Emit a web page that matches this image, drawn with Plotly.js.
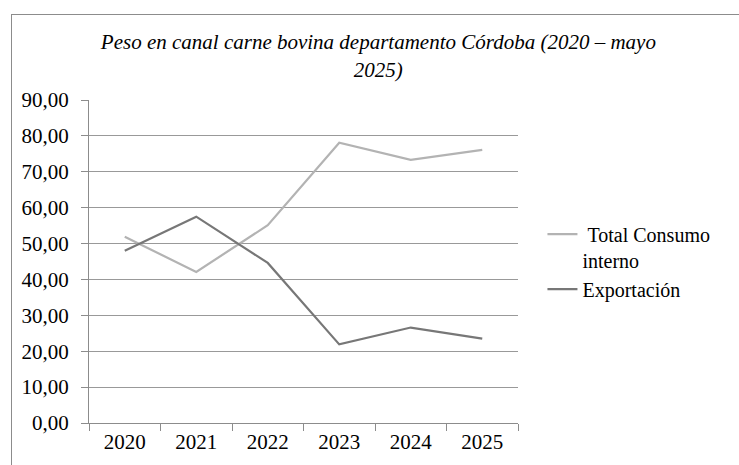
<!DOCTYPE html>
<html>
<head>
<meta charset="utf-8">
<script src="https://cdn.plot.ly/plotly-3.0.1.min.js"></script>
<style>
  html, body { margin: 0; padding: 0; background: #fff; overflow: hidden; }
  #chart { width: 739px; height: 465px; position: absolute; left: 0; top: 0; }
  #frame { position: absolute; left: 11px; top: 14px; width: 760px; height: 480px;
           border-left: 1px solid #8c8c8c; border-top: 1px solid #8c8c8c; pointer-events: none; }
</style>
</head>
<body>
<div id="chart"></div>
<div id="frame"></div>
<script>
const years = ['2020', '2021', '2022', '2023', '2024', '2025'];
const consumoInterno = [51.9, 42.1, 55.1, 78.1, 73.3, 76.1];
const exportacion = [48.0, 57.5, 44.6, 21.9, 26.6, 23.5];
const yTicks = [0, 10, 20, 30, 40, 50, 60, 70, 80, 90];

const serif = 'Liberation Serif';

const traces = [
  {
    x: years, y: consumoInterno, type: 'scatter', mode: 'lines',
    name: '\u00a0Total Consumo<br>interno',
    line: { color: '#b3b3b3', width: 2.2 }
  },
  {
    x: years, y: exportacion, type: 'scatter', mode: 'lines',
    name: 'Exportación',
    line: { color: '#777777', width: 2.2 }
  }
];

const layout = {
  width: 739, height: 465,
  margin: { l: 89, r: 221, t: 100, b: 42 },
  paper_bgcolor: '#ffffff', plot_bgcolor: '#ffffff',
  separators: ',.',
  font: { family: serif, size: 20, color: '#000000' },
  title: {
    text: '<i>Peso en canal carne bovina departamento Córdoba (2020 – mayo<br>2025)</i>',
    font: { family: serif, size: 21, color: '#000000' },
    x: 0.512, xanchor: 'center', y: 0.894, yanchor: 'top'
  },
  xaxis: {
    type: 'category',
    range: [-0.5, 5.5],
    tickson: 'boundaries',
    ticks: 'outside', ticklen: 7, tickcolor: '#8c8c8c', tickwidth: 1,
    showline: true, linecolor: '#8c8c8c', linewidth: 1,
    showgrid: false, zeroline: false,
    tickfont: { family: serif, size: 21, color: '#000' }
  },
  yaxis: {
    range: [0, 90],
    tickvals: yTicks,
    tickformat: '.2f',
    ticks: 'outside', ticklen: 7, tickcolor: '#8c8c8c', tickwidth: 1,
    ticklabelstandoff: 8,
    showline: true, linecolor: '#8c8c8c', linewidth: 1,
    showgrid: true, gridcolor: '#999999', gridwidth: 1,
    zeroline: false,
    tickfont: { family: serif, size: 21, color: '#000' }
  },
  showlegend: true,
  legend: {
    x: 1.057, xanchor: 'left', y: 0.645, yanchor: 'top',
    font: { family: serif, size: 20, color: '#000' },
    bgcolor: 'rgba(0,0,0,0)', borderwidth: 0,
    valign: 'top', tracegroupgap: 0
  }
};

Plotly.newPlot('chart', traces, layout, { displayModeBar: false, staticPlot: true });
</script>
</body>
</html>
